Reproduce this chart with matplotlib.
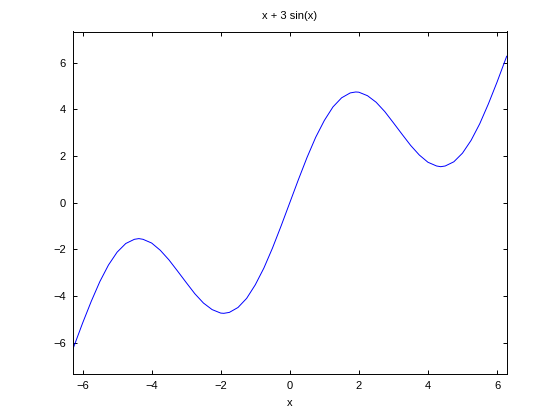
import matplotlib
matplotlib.use("Agg")
import matplotlib.pyplot as plt

x_pos = [0.0, 0.25, 0.5, 0.75, 1.0, 1.25, 1.5, 1.75, 1.91, 2.0, 2.25, 2.5, 2.75,
         3.0, 3.25, 3.5, 3.75, 4.0, 4.25, 4.37, 4.5, 4.75, 5.0, 5.25, 5.5,
         5.75, 6.0, 6.28]
y_pos = [0.0, 0.99, 1.94, 2.80, 3.52, 4.10, 4.49, 4.70, 4.74, 4.73, 4.58, 4.30, 3.90,
         3.42, 2.93, 2.45, 2.04, 1.73, 1.57, 1.54, 1.57, 1.75, 2.12, 2.67, 3.38,
         4.23, 5.16, 6.27]

x_vals = [-v for v in reversed(x_pos[1:])] + x_pos
y_vals = [-v for v in reversed(y_pos[1:])] + y_pos

xticks = [-6, -4, -2, 0, 2, 4, 6]
yticks = [-6, -4, -2, 0, 2, 4, 6]

plt.rcParams['font.family'] = ['Liberation Sans', 'DejaVu Sans']
plt.rcParams['font.size'] = 8

fig = plt.figure(figsize=(5.6, 4.2), dpi=100)
ax = fig.add_axes([0.13, 0.11, 0.775, 0.815])
ax.plot(x_vals, y_vals, color='blue', linewidth=0.7)

ax.set_xlim(-6.2832, 6.2832)
ax.set_ylim(-7.33, 7.33)
ax.set_xticks(xticks)
ax.set_yticks(yticks)
ax.tick_params(direction='in', length=3, width=0.7, top=True, right=True,
               labelsize=8, pad=5)
for s in ax.spines.values():
    s.set_linewidth(0.7)

ax.set_title('x + 3 sin(x)', fontsize=8, pad=9)
ax.set_xlabel('x', fontsize=8, labelpad=5)

fig.savefig('out.png', dpi=100)
